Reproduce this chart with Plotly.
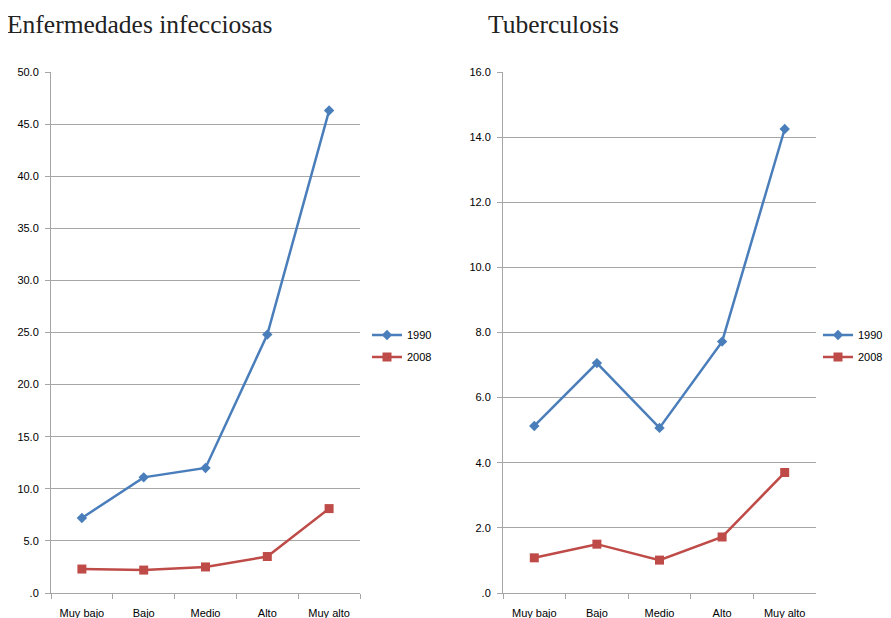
import plotly.graph_objects as go

categories = ["Muy bajo", "Bajo", "Medio", "Alto", "Muy alto"]
inf_1990 = [7.2, 11.1, 12.0, 24.8, 46.3]
inf_2008 = [2.3, 2.2, 2.5, 3.5, 8.1]
tb_1990 = [5.13, 7.06, 5.07, 7.72, 14.25]
tb_2008 = [1.08, 1.5, 1.01, 1.72, 3.7]

inf_ticks = [0, 5, 10, 15, 20, 25, 30, 35, 40, 45, 50]
inf_ticktext = [".0", "5.0", "10.0", "15.0", "20.0", "25.0", "30.0", "35.0", "40.0", "45.0", "50.0"]
tb_ticks = [0, 2, 4, 6, 8, 10, 12, 14, 16]
tb_ticktext = [".0", "2.0", "4.0", "6.0", "8.0", "10.0", "12.0", "14.0", "16.0"]

BLUE = "#4A7EBB"
RED = "#BE4B48"
GRID = "#A6A6A6"
FONT = "Liberation Sans"

W, H = 891, 618
OFF = 8  # page body margin offset


def px(x):
    return (x - OFF) / W


def py(y):
    return 1 - (y - OFF) / H


fig = go.Figure()


def add(x, y, name, color, symbol, size, xa, ya, legend):
    fig.add_trace(go.Scatter(
        x=x, y=y, name=name, mode="lines+markers",
        line=dict(color=color, width=2.5),
        marker=dict(symbol=symbol, size=size, color=color),
        xaxis=xa, yaxis=ya, legend=legend, legendgroup=legend + name))


add(categories, inf_1990, "1990", BLUE, "diamond", 8, "x", "y", "legend")
add(categories, inf_2008, "2008", RED, "square", 9, "x", "y", "legend")
add(categories, tb_1990, "1990", BLUE, "diamond", 8, "x2", "y2", "legend2")
add(categories, tb_2008, "2008", RED, "square", 9, "x2", "y2", "legend2")

ydom = [py(593), py(72)]

xcommon = dict(type="category", tickson="boundaries", ticks="outside", ticklen=5,
               tickcolor=GRID, showline=True, linecolor=GRID, linewidth=1,
               showgrid=False, tickfont=dict(family=FONT, size=11, color="#000"),
               automargin=False, ticklabelstandoff=10,
               range=[-0.5, len(categories) - 0.5])
ycommon = dict(ticks="outside", ticklen=5, tickcolor=GRID, showline=True,
               linecolor=GRID, linewidth=1, showgrid=True, gridcolor=GRID,
               gridwidth=1, zeroline=False, automargin=False, ticklabelstandoff=4,
               tickfont=dict(family=FONT, size=11, color="#000"))

legcommon = dict(xanchor="left", yanchor="middle", y=py(346),
                 font=dict(family=FONT, size=11, color="#000"),
                 bgcolor="rgba(0,0,0,0)", itemwidth=30, tracegroupgap=3)

fig.update_layout(
    width=W, height=H,
    margin=dict(l=0, r=0, t=0, b=0, autoexpand=False),
    paper_bgcolor="white", plot_bgcolor="white",
    xaxis=dict(domain=[px(51), px(360)], anchor="y", **xcommon),
    yaxis=dict(domain=ydom, anchor="x", range=[0, 50], tickvals=inf_ticks,
               ticktext=inf_ticktext, **ycommon),
    xaxis2=dict(domain=[px(503), px(816)], anchor="y2", **xcommon),
    yaxis2=dict(domain=ydom, anchor="x2", range=[0, 16], tickvals=tb_ticks,
                ticktext=tb_ticktext, **ycommon),
    legend=dict(x=px(367), **legcommon),
    legend2=dict(x=px(818), **legcommon),
    annotations=[
        dict(text="Enfermedades infecciosas", x=px(5), y=py(24),
             xref="paper", yref="paper", xanchor="left", yanchor="middle",
             showarrow=False, font=dict(family="Liberation Serif", size=25.5, color="#222")),
        dict(text="Tuberculosis", x=px(486), y=py(24),
             xref="paper", yref="paper", xanchor="left", yanchor="middle",
             showarrow=False, font=dict(family="Liberation Serif", size=25.5, color="#222")),
    ],
)

fig.write_html("out.html")
